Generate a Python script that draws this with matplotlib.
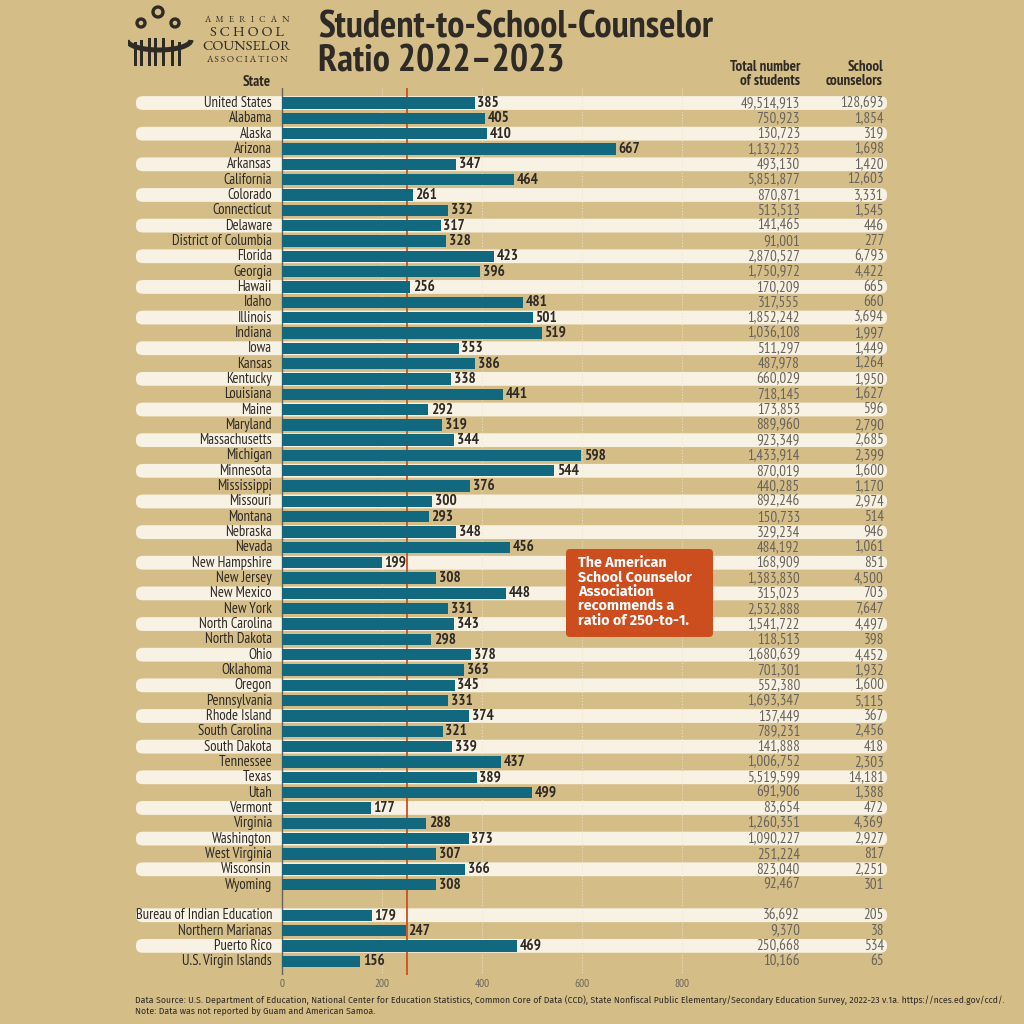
import matplotlib.pyplot as plt
from matplotlib import font_manager
from matplotlib.patches import FancyBboxPatch, Circle, Arc, Rectangle

names = {f.name for f in font_manager.fontManager.ttflist}


def pick(cands):
    for c in cands:
        if c in names:
            return c
    return 'DejaVu Sans'


narrow = pick(['PT Sans Narrow', 'Fira Sans Condensed', 'Roboto Condensed', 'Archivo Narrow',
               'Liberation Sans Narrow'])
boxfont = pick(['Fira Sans', 'Open Sans', 'Noto Sans'])
serif = [pick(['EB Garamond', 'Cormorant Garamond', 'Liberation Serif', 'DejaVu Serif']),
         'DejaVu Serif']
plt.rcParams['font.family'] = [narrow, 'DejaVu Sans']

states = ['United States', 'Alabama', 'Alaska', 'Arizona', 'Arkansas', 'California', 'Colorado',
          'Connecticut', 'Delaware', 'District of Columbia', 'Florida', 'Georgia', 'Hawaii', 'Idaho',
          'Illinois', 'Indiana', 'Iowa', 'Kansas', 'Kentucky', 'Louisiana', 'Maine', 'Maryland',
          'Massachusetts', 'Michigan', 'Minnesota', 'Mississippi', 'Missouri', 'Montana', 'Nebraska',
          'Nevada', 'New Hampshire', 'New Jersey', 'New Mexico', 'New York', 'North Carolina',
          'North Dakota', 'Ohio', 'Oklahoma', 'Oregon', 'Pennsylvania', 'Rhode Island',
          'South Carolina', 'South Dakota', 'Tennessee', 'Texas', 'Utah', 'Vermont', 'Virginia',
          'Washington', 'West Virginia', 'Wisconsin', 'Wyoming',
          'Bureau of Indian Education', 'Northern Marianas', 'Puerto Rico', 'U.S. Virgin Islands']
ratios = [385, 405, 410, 667, 347, 464, 261, 332, 317, 328, 423, 396, 256, 481, 501, 519, 353, 386,
          338, 441, 292, 319, 344, 598, 544, 376, 300, 293, 348, 456, 199, 308, 448, 331, 343, 298,
          378, 363, 345, 331, 374, 321, 339, 437, 389, 499, 177, 288, 373, 307, 366, 308,
          179, 247, 469, 156]
students = [49514913, 750923, 130723, 1132223, 493130, 5851877, 870871, 513513, 141465, 91001,
            2870527, 1750972, 170209, 317555, 1852242, 1036108, 511297, 487978, 660029, 718145,
            173853, 889960, 923349, 1433914, 870019, 440285, 892246, 150733, 329234, 484192,
            168909, 1383830, 315023, 2532888, 1541722, 118513, 1680639, 701301, 552380, 1693347,
            137449, 789231, 141888, 1006752, 5519599, 691906, 83654, 1260351, 1090227, 251224,
            823040, 92467, 36692, 9370, 250668, 10166]
counselors = [128693, 1854, 319, 1698, 1420, 12603, 3331, 1545, 446, 277, 6793, 4422, 665, 660,
              3694, 1997, 1449, 1264, 1950, 1627, 596, 2790, 2685, 2399, 1600, 1170, 2974, 514,
              946, 1061, 851, 4500, 703, 7647, 4497, 398, 4452, 1932, 1600, 5115, 367, 2456, 418,
              2303, 14181, 1388, 472, 4369, 2927, 817, 2251, 301, 205, 38, 534, 65]
recommended = 250
xticks = [0, 200, 400, 600, 800]

BG = '#d5bd88'
STRIPE = '#f8f2e4'
TEAL = '#12687f'
RED = '#c9501f'
DARK = '#2e2a25'
GREY = '#68635c'

fig = plt.figure(figsize=(10.24, 10.24), dpi=100, facecolor=BG)

# main axes: pixel x 135..888, y 88..975 ; 0 at px 282, 2 data units per px
xl, xr = (135 - 282) * 2, (888 - 282) * 2
ax = fig.add_axes([135 / 1024, (1024 - 975) / 1024, 753 / 1024, 887 / 1024])
ax.set_facecolor('none')
ax.set_xlim(xl, xr)
ax.set_ylim(56.9, -0.98)
for s in ax.spines.values():
    s.set_visible(False)
ax.set_yticks([])
ax.set_xticks(xticks)
ax.set_xticklabels([str(t) for t in xticks], fontsize=8, color=GREY)
ax.tick_params(axis='x', length=0, pad=3)

ypos = list(range(52)) + [53, 54, 55, 56]

# stripes
for i, y in enumerate(ypos):
    k = i if i < 52 else i - 52
    if k % 2 == 0:
        ax.add_patch(FancyBboxPatch((xl + 2, y - 0.45), (xr - xl) - 4, 0.9,
                                    boxstyle='round,pad=0,rounding_size=14',
                                    mutation_aspect=0.028, fc=STRIPE, ec='none', zorder=0))

# grid
for t in xticks[1:]:
    ax.plot([t, t], [-0.98, 56.9], color='#ede3cb', lw=0.7, ls=(0, (1, 2)), zorder=0.5)

ax.plot([0, 0], [-0.98, 56.9], color='#6a6258', lw=1.0, zorder=1.5)
ax.plot([recommended, recommended], [-0.98, 56.9], color=RED, lw=1.3, zorder=1.5)
ax.barh(ypos, ratios, height=0.74, color=TEAL, zorder=2)

for y, name, r, st, c in zip(ypos, states, ratios, students, counselors):
    ax.text(-20, y, name, ha='right', va='center', fontsize=10.5, color=DARK)
    ax.text(r + 6, y, str(r), ha='left', va='center', fontsize=11, fontweight='bold', color=DARK,
            zorder=4)
    ax.text(1036, y, f'{st:,}', ha='right', va='center', fontsize=10.8, color=GREY)
    ax.text(1204, y, f'{c:,}', ha='right', va='center', fontsize=10.8, color=GREY)

# headers
fig.text(257 / 1024, 1 - 82 / 1024, 'State', ha='center', va='center', fontsize=10.8,
         fontweight='bold', color=DARK)
fig.text(800 / 1024, 1 - 74 / 1024, 'Total number\nof students', ha='right', va='center',
         fontsize=10.8, fontweight='bold', color=DARK, linespacing=1.05)
fig.text(883 / 1024, 1 - 74 / 1024, 'School\ncounselors', ha='right', va='center',
         fontsize=10.8, fontweight='bold', color=DARK, linespacing=1.05)

# title
fig.text(318 / 1024, 1 - 45 / 1024, 'Student-to-School-Counselor\nRatio 2022\u20132023',
         ha='left', va='center', fontsize=27.5, fontweight='bold', color=DARK, linespacing=0.98)

# recommendation box
bx = fig.add_axes([566 / 1024, 1 - 637 / 1024, 147 / 1024, 88 / 1024])
bx.axis('off')
bx.set_xlim(0, 147)
bx.set_ylim(0, 88)
bx.add_patch(FancyBboxPatch((0, 0), 147, 88, boxstyle='round,pad=0,rounding_size=4',
                            fc='#cc4e1e', ec='none'))
bx.text(12, 81, 'The American\nSchool Counselor\nAssociation\nrecommends a\nratio of 250-to-1.',
        ha='left', va='top', fontsize=10.3, fontweight='bold', color='white', linespacing=1.02,
        family=[boxfont, 'DejaVu Sans'])

# logo
lg = fig.add_axes([128 / 1024, 1 - 70 / 1024, 175 / 1024, 66 / 1024])
lg.axis('off')
lg.set_xlim(128, 303)
lg.set_ylim(70, 4)
for cx, cy, r in [(141, 23, 4), (158, 12, 5), (175, 23, 4)]:
    lg.add_patch(Circle((cx, cy), r, fill=False, ec=DARK, lw=2.4))
lg.add_patch(Arc((159, 40), 64, 20, theta1=0, theta2=180, ec=DARK, lw=3.6))
for x0, h in [(134, 24), (140, 26), (148, 28), (154, 28), (162, 28), (171, 26), (178, 24)]:
    lg.add_patch(Rectangle((x0, 66 - h), 3.4, h, fc=DARK, ec='none'))
lg.text(247, 20, 'A   M   E   R   I   C   A   N', ha='center', va='center', fontsize=6.5,
        color=DARK, family=serif)
lg.text(247, 32.5, 'S C H O O L', ha='center', va='center', fontsize=10.5, color=DARK,
        family=serif)
lg.text(247, 46.5, 'COUNSELOR', ha='center', va='center', fontsize=10.5, color=DARK,
        family=serif)
lg.text(247, 60, 'A S S O C I A T I O N', ha='center', va='center', fontsize=6.8, color=DARK,
        family=serif)

# footer
fig.text(135 / 1024, 1 - 1000 / 1024,
         'Data Source: U.S. Department of Education, National Center for Education Statistics, '
         'Common Core of Data (CCD), State Nonfiscal Public Elementary/Secondary Education Survey, '
         '2022-23 v.1a. https://nces.ed.gov/ccd/.',
         ha='left', va='center', fontsize=6.3, color=DARK, family=[boxfont, 'DejaVu Sans'])
fig.text(135 / 1024, 1 - 1011 / 1024, 'Note: Data was not reported by Guam and American Samoa.',
         ha='left', va='center', fontsize=6.3, color=DARK, family=[boxfont, 'DejaVu Sans'])

fig.savefig('out.png', dpi=100, facecolor=BG)
